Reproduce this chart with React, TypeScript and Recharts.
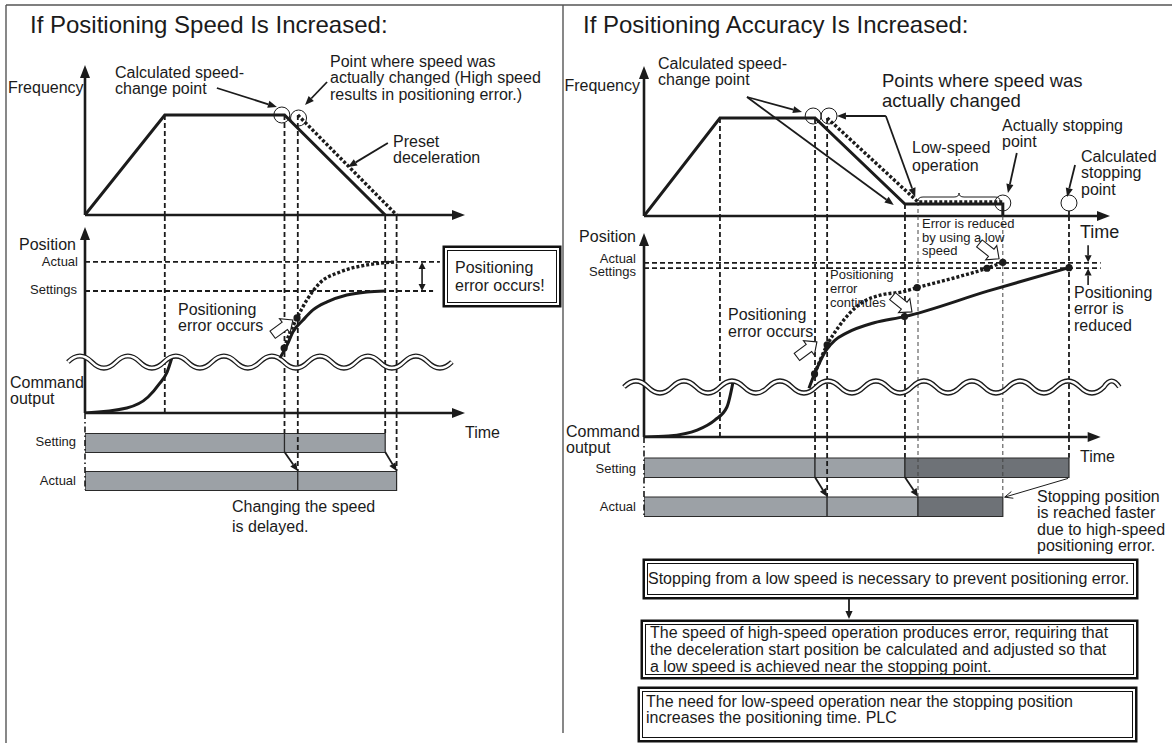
import React from "react";
import { ComposedChart, Line, Bar, XAxis, YAxis, ReferenceLine, ReferenceDot } from "recharts";

const W = 1172;
const H = 743;
const FONT = '"Liberation Sans", Arial, Helvetica, sans-serif';
const INK = "#1b1b1b";
const BAR_LIGHT = "#9ca1a6";
const BAR_DARK = "#6e7277";

// ---------- left: positioning speed is increased ----------
const L_FREQ_SET = [{ t: 0, f: 0 }, { t: 21, f: 100 }, { t: 52.5, f: 100 }, { t: 79, f: 0 }];
const L_FREQ_ACT = [{ t: 56, f: 100 }, { t: 82, f: 0 }];
const L_CIRCLES = [{ t: 51.8, f: 100 }, { t: 56.2, f: 97 }];
const L_CMD = [{ t: 0, p: 0 }, { t: 11, p: 2.7 }, { t: 16.6, p: 8.6 }, { t: 19.7, p: 16 }, { t: 21.6, p: 22 }, { t: 22.9, p: 30 }];
const L_POS_SET = [
  { t: 51.3, p: 29.6 }, { t: 53.2, p: 36.6 }, { t: 54.7, p: 43.5 }, { t: 57.4, p: 50 }, { t: 60, p: 55.4 },
  { t: 63.7, p: 59.7 }, { t: 68.9, p: 63.4 }, { t: 74.2, p: 65.1 }, { t: 79, p: 65.6 },
];
const L_POS_ACT = [
  { t: 52.4, p: 34.9 }, { t: 53.9, p: 43 }, { t: 55.8, p: 51.1 }, { t: 58.4, p: 60.8 }, { t: 61.8, p: 69.9 },
  { t: 67.1, p: 75.8 }, { t: 74.2, p: 79.6 }, { t: 82, p: 81.2 },
];
const L_POS_DOTS = [{ t: 52.4, p: 34.9 }, { t: 55.8, p: 51.1 }];
const L_LEVELS = [{ p: 65.6, end: 91.6 }, { p: 81.2, end: 93.4 }]; // settings, actual
const L_SET_TIMES = [0, 52.5, 79];
const L_ACT_TIMES = [0, 56, 82];
const L_GUIDES = [
  { t: 21, f: 100, row: 0 }, { t: 52.5, f: 100, row: 1 }, { t: 56, f: 100, row: 2 },
  { t: 79, f: 0, row: 1 }, { t: 82, f: 0, row: 2 },
];
const L_FREQ_POINTERS = [
  { a: [34.7, 127], b: [50.5, 108] }, { a: [63.7, 133], b: [57.9, 110] }, { a: [79.7, 72], b: [69.2, 48] },
];
const L_POS_POINTERS = [{ a: [88.7, 81.2], b: [88.7, 65.6], both: true }];
const L_BLOCKS = [{ t: 54.7, p: 50, angle: -36 }];
const L_BAR_ARROWS = [{ a: [52.5, 1.25], b: [56, 1.75] }, { a: [79, 1.25], b: [82, 1.75] }];

// ---------- right: positioning accuracy is increased ----------
const R_FREQ_SET = [{ t: 0, f: 0 }, { t: 16.3, f: 98 }, { t: 36.7, f: 98 }, { t: 56, f: 12 }, { t: 77, f: 12 }, { t: 77, f: 0 }];
const R_FREQ_ACT = [{ t: 39.3, f: 98 }, { t: 58.8, f: 14 }, { t: 77, f: 14 }];
const R_CIRCLES = [{ t: 36.3, f: 100 }, { t: 39.7, f: 100 }, { t: 77, f: 13 }, { t: 91.2, f: 13 }];
const R_CMD = [{ t: 0, p: 0 }, { t: 5.2, p: 0.5 }, { t: 11.4, p: 3.4 }, { t: 15.2, p: 8.3 }, { t: 17.8, p: 14.7 }, { t: 19.1, p: 26.9 }];
const R_POS_SET = [
  { t: 35.4, p: 23.9 }, { t: 36.6, p: 30.9 }, { t: 39.1, p: 42.6 }, { t: 41, p: 47.5 }, { t: 43.3, p: 50.8 },
  { t: 49.4, p: 56 }, { t: 55.9, p: 59 }, { t: 73.9, p: 71.6 }, { t: 91.2, p: 83 },
];
const R_POS_ACT = [
  { t: 36.6, p: 30.9 }, { t: 39.3, p: 45.1 }, { t: 41.8, p: 54.1 }, { t: 44.1, p: 60.6 }, { t: 47.1, p: 66.3 },
  { t: 50.9, p: 69.6 }, { t: 55.6, p: 71.2 }, { t: 58.6, p: 73.2 }, { t: 66.3, p: 77.8 }, { t: 73.6, p: 82.7 },
  { t: 77, p: 85.6 },
];
const R_POS_DOTS = [
  { t: 36.6, p: 30.9 }, { t: 39.3, p: 45.1 }, { t: 55.9, p: 59 }, { t: 58.6, p: 73.2 },
  { t: 73.6, p: 82.7 }, { t: 77, p: 85.6 }, { t: 91.2, p: 83 },
];
const R_LEVELS = [{ p: 82.8, end: 98 }, { p: 85.3, end: 98 }];
const R_SET_TIMES = [0, 36.7, 56, 91.2];
const R_ACT_TIMES = [0, 39.3, 58.8, 77];
const R_GUIDES = [
  { t: 16.3, f: 98, row: 0 }, { t: 36.7, f: 98, row: 1 }, { t: 39.3, f: 98, row: 2 }, { t: 56, f: 12, row: 1 },
  { t: 58.8, f: 14, row: 2, thin: true }, { t: 77, f: 0, row: 2, thin: true }, { t: 91.2, f: 5, row: 1 },
];
const R_FREQ_POINTERS = [
  { a: [22.1, 119], b: [33.9, 104] }, { a: [22.1, 119], b: [53.6, 11] }, { a: [51.9, 100], b: [41.4, 100] },
  { a: [51.9, 100], b: [58.2, 19] }, { a: [80, 63], b: [78.1, 23] }, { a: [92.5, 51], b: [90.8, 19] },
];
const R_POS_POINTERS = [{ a: [95.3, 94], b: [95.3, 85.6] }, { a: [95.3, 74.5], b: [95.3, 82.6] }];
const R_BLOCKS = [{ t: 37.1, p: 46.6, angle: -37 }, { t: 57.5, p: 61.3, angle: 39 }, { t: 76.2, p: 87.3, angle: 38 }];
const R_BAR_ARROWS = [{ a: [36.7, 1.25], b: [39.3, 1.75] }, { a: [56, 1.25], b: [58.8, 1.75] }];
const R_BAR_THIN = [{ a: [91, 1.28], b: [77.4, 1.76] }];
const R_BRACE = [{ a: 58.8, b: 76.4, f: 19 }];

// plot boxes in pixels (layout only)
const L_BOX = { x0: 85, x1: 465, fTop: 65, fBot: 215, pBot: 413, pMax: 106.45, pAxis: 100, tAxis: 100, lTop: 404.5, lane: 38, wave: [-4.5, 96.6, 27.4] };
const R_BOX = { x0: 644, x1: 1110, fTop: 66, fBot: 216, pBot: 437, pMax: 108.3, pAxis: 100, tAxis: 98, lTop: 428.5, lane: 39, wave: [-4.3, 102, 24.5] };

const head = (x1: number, y1: number, x2: number, y2: number, len: number, half: number) => {
  const d = Math.hypot(x2 - x1, y2 - y1) || 1;
  const ux = (x2 - x1) / d, uy = (y2 - y1) / d;
  const bx = x2 - ux * len, by = y2 - uy * len;
  return { bx, by, pts: `${x2},${y2} ${bx - uy * half},${by + ux * half} ${bx + uy * half},${by - ux * half}` };
};

const arrow = (o: any = {}) => (p: any) => {
  const { x1, y1, x2, y2 } = p;
  const w = o.w ?? 1.6, len = o.len ?? 9, half = o.half ?? 3.6;
  const e = head(x1, y1, x2, y2, len, half);
  const s = o.both ? head(x2, y2, x1, y1, len, half) : null;
  if (o.open) {
    const pts = e.pts.split(" ");
    return (
      <g fill="none" stroke={INK} strokeWidth={w}>
        <line x1={x1} y1={y1} x2={x2} y2={y2} />
        <polyline points={`${pts[1]} ${pts[0]} ${pts[2]}`} />
      </g>
    );
  }
  return (
    <g>
      <line x1={s ? s.bx : x1} y1={s ? s.by : y1} x2={e.bx} y2={e.by} stroke={INK} strokeWidth={w} />
      <polygon points={e.pts} fill={INK} />
      {s && <polygon points={s.pts} fill={INK} />}
    </g>
  );
};

const wave = (p: any) => {
  const { x1, x2, y1 } = p;
  const h = 24, a = 6;
  let d = `M${x1},${y1}`;
  let up = true;
  for (let x = x1; x < x2 - 0.5; x += h) {
    const nx = Math.min(x + h, x2);
    d += ` Q${(x + nx) / 2},${y1 + (up ? -2 * a : 2 * a)} ${nx},${y1}`;
    up = !up;
  }
  return (
    <g fill="none">
      <path d={d} stroke={INK} strokeWidth={5} />
      <path d={d} stroke="#fff" strokeWidth={2.4} />
    </g>
  );
};

const brace = (p: any) => {
  const { x1, x2, y1 } = p;
  const m = (x1 + x2) / 2;
  const d = `M${x1},${y1 + 4} Q${x1},${y1} ${x1 + 5},${y1} L${m - 5},${y1} Q${m},${y1} ${m},${y1 - 4} Q${m},${y1} ${m + 5},${y1} L${x2 - 5},${y1} Q${x2},${y1} ${x2},${y1 + 4}`;
  return <path d={d} fill="none" stroke={INK} strokeWidth={1} />;
};

const block = (angle: number) => (p: any) => (
  <polygon
    points="0,0 -10,-9 -10,-4.5 -25,-4.5 -25,4.5 -10,4.5 -10,9"
    transform={`translate(${p.cx},${p.cy}) rotate(${angle})`}
    fill="#fff"
    stroke={INK}
    strokeWidth={1.1}
  />
);

const segs = (times: number[]) => {
  const o: any = {};
  for (let i = 1; i < times.length; i++) o[`s${i - 1}`] = times[i] - times[i - 1];
  return o;
};

const Layer = ({ children }: any) => (
  <div style={{ position: "absolute", left: 0, top: 0, pointerEvents: "none" }}>{children}</div>
);

function Panel({ s }: any) {
  const b = s.box;
  const half = 0.25;
  const axisLane = (b.pBot - b.lTop) / b.lane;
  const m = (top: number, bot: number) => ({ left: b.x0, right: W - b.x1, top, bottom: H - bot });
  const rows = [{ lane: 1, ...segs(s.setTimes) }, { lane: 2, ...segs(s.actTimes) }];
  const guideStyle = (g: any) => ({
    stroke: g.thin ? "#444" : INK,
    strokeWidth: g.thin ? 1 : 1.8,
    strokeDasharray: g.thin ? "4 3" : "5 3",
  });

  return (
    <>
      {/* frequency */}
      <Layer>
        <ComposedChart width={W} height={H} margin={m(b.fTop, b.fBot)}>
          <XAxis type="number" dataKey="t" domain={[0, 100]} hide allowDataOverflow />
          <YAxis type="number" domain={[0, 150]} hide allowDataOverflow />
          {s.guides.filter((g: any) => g.f > 0).map((g: any, i: number) => (
            <ReferenceLine key={`g${i}`} segment={[{ x: g.t, y: g.f }, { x: g.t, y: 0 }]} ifOverflow="visible" {...guideStyle(g)} />
          ))}
          <ReferenceLine segment={[{ x: 0, y: 0 }, { x: 100, y: 0 }]} ifOverflow="visible" shape={arrow({ w: 2.6, len: 13, half: 5 })} />
          <ReferenceLine segment={[{ x: 0, y: 0 }, { x: 0, y: 150 }]} ifOverflow="visible" shape={arrow({ w: 2.6, len: 13, half: 5 })} />
          <Line data={s.freqSet} dataKey="f" type="linear" stroke={INK} strokeWidth={3} dot={false} isAnimationActive={false} />
          <Line data={s.freqAct} dataKey="f" type="linear" stroke={INK} strokeWidth={3.4} strokeDasharray="3 2" dot={false} isAnimationActive={false} />
          {s.circles.map((c: any, i: number) => (
            <ReferenceDot key={`c${i}`} x={c.t} y={c.f} r={8} fill="none" stroke={INK} strokeWidth={1} ifOverflow="visible" />
          ))}
          {s.freqPointers.map((a: any, i: number) => (
            <ReferenceLine key={`a${i}`} segment={[{ x: a.a[0], y: a.a[1] }, { x: a.b[0], y: a.b[1] }]} ifOverflow="visible" shape={arrow({ w: 1.8 })} />
          ))}
          {(s.braces || []).map((br: any, i: number) => (
            <ReferenceLine key={`b${i}`} segment={[{ x: br.a, y: br.f }, { x: br.b, y: br.f }]} ifOverflow="visible" shape={brace} />
          ))}
        </ComposedChart>
      </Layer>

      {/* position + command output */}
      <Layer>
        <ComposedChart width={W} height={H} margin={m(b.fBot, b.pBot)}>
          <XAxis type="number" dataKey="t" domain={[0, 100]} hide allowDataOverflow />
          <YAxis type="number" domain={[0, b.pMax]} hide allowDataOverflow />
          {s.guides.map((g: any, i: number) => (
            <ReferenceLine key={`g${i}`} x={g.t} ifOverflow="visible" {...guideStyle(g)} />
          ))}
          {s.levels.map((l: any, i: number) => (
            <ReferenceLine key={`l${i}`} segment={[{ x: 0, y: l.p }, { x: l.end, y: l.p }]} ifOverflow="visible" stroke={INK} strokeWidth={1.8} strokeDasharray="5 3" />
          ))}
          <ReferenceLine segment={[{ x: 0, y: 0 }, { x: 0, y: b.pAxis }]} ifOverflow="visible" shape={arrow({ w: 2.6, len: 13, half: 5 })} />
          <ReferenceLine segment={[{ x: 0, y: 0 }, { x: b.tAxis, y: 0 }]} ifOverflow="visible" shape={arrow({ w: 2.6, len: 13, half: 5 })} />
          <Line data={s.cmd} dataKey="p" type="monotone" stroke={INK} strokeWidth={3} dot={false} isAnimationActive={false} />
          <ReferenceLine segment={[{ x: b.wave[0], y: b.wave[2] }, { x: b.wave[1], y: b.wave[2] }]} ifOverflow="visible" shape={wave} />
          <Line data={s.posSet} dataKey="p" type="monotone" stroke={INK} strokeWidth={3} dot={false} isAnimationActive={false} />
          <Line data={s.posAct} dataKey="p" type="monotone" stroke={INK} strokeWidth={3.4} strokeDasharray="3 2" dot={false} isAnimationActive={false} />
          {s.dots.map((d: any, i: number) => (
            <ReferenceDot key={`d${i}`} x={d.t} y={d.p} r={3.6} fill={INK} stroke="none" ifOverflow="visible" />
          ))}
          {s.posPointers.map((a: any, i: number) => (
            <ReferenceLine key={`a${i}`} segment={[{ x: a.a[0], y: a.a[1] }, { x: a.b[0], y: a.b[1] }]} ifOverflow="visible" shape={arrow({ w: 1.6, len: 7, half: 3.5, both: a.both })} />
          ))}
          {s.blocks.map((k: any, i: number) => (
            <ReferenceDot key={`k${i}`} x={k.t} y={k.p} r={1} ifOverflow="visible" shape={block(k.angle)} />
          ))}
        </ComposedChart>
      </Layer>

      {/* setting / actual bars; lane 0 at top, lanes grow downwards */}
      <Layer>
        <ComposedChart layout="vertical" width={W} height={H} data={rows} margin={m(b.lTop, b.lTop + 2.5 * b.lane)}>
          <XAxis type="number" domain={[0, 100]} hide allowDataOverflow />
          <YAxis type="number" dataKey="lane" domain={[0, 2.5]} ticks={[1, 2]} hide />
          {s.barColors.map((c: string, i: number) => (
            <Bar key={`s${i}`} dataKey={`s${i}`} stackId="r" fill={c} stroke="#2a2a2a" strokeWidth={1.2} barSize={b.lane * 2 * half} isAnimationActive={false} />
          ))}
          <ReferenceLine segment={[{ x: 0, y: axisLane }, { x: 0, y: 2 + half }]} ifOverflow="visible" stroke={INK} strokeWidth={1.6} strokeDasharray="6 3 1.5 3" />
          {s.guides.filter((g: any) => g.row > 0).map((g: any, i: number) => (
            <ReferenceLine key={`g${i}`} segment={[{ x: g.t, y: axisLane }, { x: g.t, y: g.row - half }]} ifOverflow="visible" {...guideStyle(g)} />
          ))}
          {s.barArrows.map((a: any, i: number) => (
            <ReferenceLine key={`a${i}`} segment={[{ x: a.a[0], y: a.a[1] }, { x: a.b[0], y: a.b[1] }]} ifOverflow="visible" shape={arrow({ w: 1.8, len: 8, half: 3.6 })} />
          ))}
          {(s.barThin || []).map((a: any, i: number) => (
            <ReferenceLine key={`t${i}`} segment={[{ x: a.a[0], y: a.a[1] }, { x: a.b[0], y: a.b[1] }]} ifOverflow="visible" shape={arrow({ w: 1, len: 8, half: 3.5, open: true })} />
          ))}
        </ComposedChart>
      </Layer>
    </>
  );
}

const LEFT = {
  box: L_BOX, freqSet: L_FREQ_SET, freqAct: L_FREQ_ACT, circles: L_CIRCLES, guides: L_GUIDES,
  freqPointers: L_FREQ_POINTERS, cmd: L_CMD, posSet: L_POS_SET, posAct: L_POS_ACT, dots: L_POS_DOTS,
  levels: L_LEVELS, posPointers: L_POS_POINTERS, blocks: L_BLOCKS, setTimes: L_SET_TIMES, actTimes: L_ACT_TIMES,
  barColors: [BAR_LIGHT, BAR_LIGHT], barArrows: L_BAR_ARROWS,
};
const RIGHT = {
  box: R_BOX, freqSet: R_FREQ_SET, freqAct: R_FREQ_ACT, circles: R_CIRCLES, guides: R_GUIDES,
  freqPointers: R_FREQ_POINTERS, braces: R_BRACE, cmd: R_CMD, posSet: R_POS_SET, posAct: R_POS_ACT, dots: R_POS_DOTS,
  levels: R_LEVELS, posPointers: R_POS_POINTERS, blocks: R_BLOCKS, setTimes: R_SET_TIMES, actTimes: R_ACT_TIMES,
  barColors: [BAR_LIGHT, BAR_LIGHT, BAR_DARK], barArrows: R_BAR_ARROWS, barThin: R_BAR_THIN,
};

const TEXTS = [
  { x: 30, y: 25, s: 24, l: ["If Positioning Speed Is Increased:"] },
  { x: 8, y: 88, l: ["Frequency"] },
  { x: 115, y: 73, lh: 16, l: ["Calculated speed-", "change point"] },
  { x: 330, y: 62, lh: 16.5, l: ["Point where speed was", "actually changed (High speed", "results in positioning error.)"] },
  { x: 393, y: 142, lh: 15.5, l: ["Preset", "deceleration"] },
  { x: 19, y: 245, l: ["Position"] },
  { x: 78, y: 262, s: 13, r: true, l: ["Actual"] },
  { x: 77, y: 290, s: 13, r: true, l: ["Settings"] },
  { x: 455, y: 268, lh: 18, l: ["Positioning", "error occurs!"] },
  { x: 178, y: 310, lh: 16, l: ["Positioning", "error occurs"] },
  { x: 10, y: 383, lh: 16, l: ["Command", "output"] },
  { x: 465, y: 433, l: ["Time"] },
  { x: 76, y: 442, s: 13, r: true, l: ["Setting"] },
  { x: 76, y: 481, s: 13, r: true, l: ["Actual"] },
  { x: 232, y: 507, lh: 20, l: ["Changing the speed", "is delayed."] },

  { x: 583, y: 25, s: 24, l: ["If Positioning Accuracy Is Increased:"] },
  { x: 640, y: 86, r: true, l: ["Frequency"] },
  { x: 658, y: 64, lh: 16, l: ["Calculated speed-", "change point"] },
  { x: 882, y: 81, s: 18.5, lh: 20, l: ["Points where speed was", "actually changed"] },
  { x: 912, y: 148, lh: 18, l: ["Low-speed", "operation"] },
  { x: 1002, y: 126, lh: 16, l: ["Actually stopping", "point"] },
  { x: 1081, y: 157, lh: 16.5, l: ["Calculated", "stopping", "point"] },
  { x: 1080, y: 232, s: 18, l: ["Time"] },
  { x: 922, y: 224, s: 13, lh: 13.5, l: ["Error is reduced", "by using a low", "speed"] },
  { x: 636, y: 237, r: true, l: ["Position"] },
  { x: 636, y: 259, s: 13, r: true, l: ["Actual"] },
  { x: 636, y: 272, s: 13, r: true, l: ["Settings"] },
  { x: 830, y: 275, s: 13, lh: 14, l: ["Positioning", "error", "continues"] },
  { x: 728, y: 314, lh: 17, l: ["Positioning", "error occurs"] },
  { x: 1074, y: 293, lh: 16.5, l: ["Positioning", "error is", "reduced"] },
  { x: 566, y: 432, lh: 16, l: ["Command", "output"] },
  { x: 1080, y: 457, l: ["Time"] },
  { x: 636, y: 469, s: 13, r: true, l: ["Setting"] },
  { x: 636, y: 507, s: 13, r: true, l: ["Actual"] },
  { x: 1037, y: 497, lh: 16.5, l: ["Stopping position", "is reached faster", "due to high-speed", "positioning error."] },
  { x: 648, y: 579, s: 16, l: ["Stopping from a low speed is necessary to prevent positioning error."] },
  { x: 650, y: 632, s: 16, lh: 17, l: ["The speed of high-speed operation produces error, requiring that", "the deceleration start position be calculated and adjusted so that", "a low speed is achieved near the stopping point."] },
  { x: 646, y: 702, s: 16, lh: 16.5, l: ["The need for low-speed operation near the stopping position", "increases the positioning time. PLC"] },
];

// outer frame of the framed notes: [x0, y0, x1, y1]
const BOXES = [
  [442, 245, 561, 307],
  [642, 558, 1138, 599],
  [640, 619, 1138, 679],
  [637, 686, 1137, 742],
];

function Txt({ t }: any) {
  const size = t.s ?? 16;
  const lh = t.lh ?? Math.round(size * 1.1);
  const st: any = {
    position: "absolute", top: t.y - lh / 2, fontSize: size, lineHeight: `${lh}px`,
    whiteSpace: "pre", fontFamily: FONT, color: INK,
  };
  if (t.r) { st.right = W - t.x; st.textAlign = "right"; } else st.left = t.x;
  return <div style={st}>{t.l.join("\n")}</div>;
}

export default function App() {
  return (
    <div style={{ position: "relative", width: W, height: H, background: "#fff", overflow: "hidden", fontFamily: FONT }}>
      <style>{"body{margin:0}"}</style>
      <svg width={W} height={H} style={{ position: "absolute", left: 0, top: 0 }}>
        <line x1={6} y1={5} x2={W} y2={5} stroke="#555" strokeWidth={1.4} />
        <line x1={6} y1={5} x2={6} y2={H} stroke="#555" strokeWidth={1.4} />
        <line x1={563} y1={5} x2={563} y2={733} stroke="#555" strokeWidth={1.4} />
      </svg>
      <Panel s={LEFT} />
      <Panel s={RIGHT} />
      {BOXES.map((bx, i) => (
        <div
          key={i}
          style={{
            position: "absolute", left: bx[0] + 4.5, top: bx[1] + 4.5, width: bx[2] - bx[0] - 9, height: bx[3] - bx[1] - 9,
            border: "1.5px solid #111", boxShadow: "0 0 0 2px #fff, 0 0 0 4.5px #111", background: "#fff", boxSizing: "border-box",
          }}
        />
      ))}
      <svg width={W} height={H} style={{ position: "absolute", left: 0, top: 0 }}>
        {arrow({ w: 1.8, len: 8, half: 3.6 })({ x1: 849, y1: 599, x2: 849, y2: 619 })}
      </svg>
      {TEXTS.map((t, i) => <Txt key={i} t={t} />)}
    </div>
  );
}
